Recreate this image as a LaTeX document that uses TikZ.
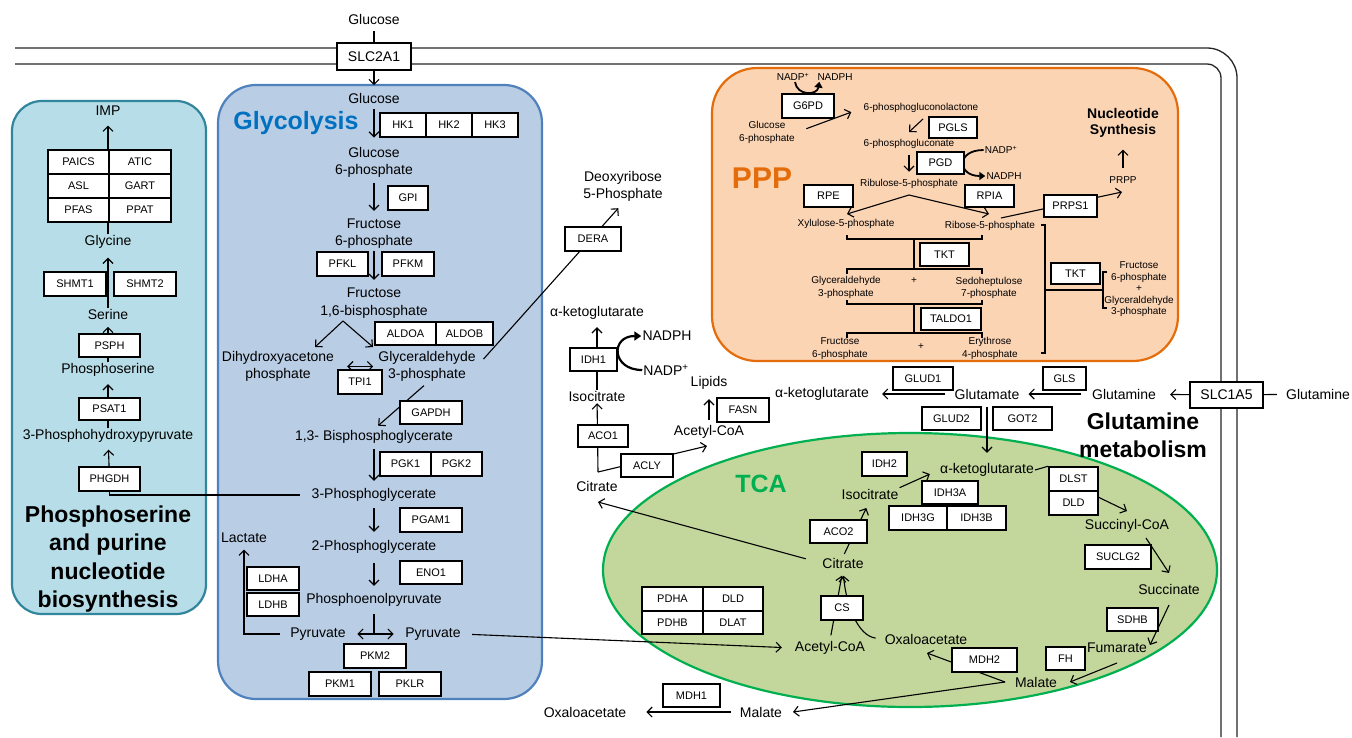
\documentclass[tikz,border=0pt]{standalone}
\usepackage{fontspec}
\setmainfont{Liberation Sans}
\usetikzlibrary{arrows.meta,calc}
\pgfdeclarelayer{fg}
\pgfsetlayers{main,fg}
\definecolor{lpfill}{HTML}{B7DEE8}
\definecolor{lpdraw}{HTML}{31859C}
\definecolor{glfill}{HTML}{B9CDE5}
\definecolor{gldraw}{HTML}{4F81BD}
\definecolor{glti}{HTML}{0070C0}
\definecolor{ppfill}{HTML}{FBD4B4}
\definecolor{ppdraw}{HTML}{E46C0A}
\definecolor{tcfill}{HTML}{C3D69B}
\definecolor{tcdraw}{HTML}{00B050}
\begin{document}
\begin{tikzpicture}[x=1pt,y=-1pt,
  met/.style={font=\fontsize{14}{17.5}\selectfont, inner sep=1pt, align=center},
  sm/.style={font=\fontsize{10}{12.5}\selectfont, inner sep=1pt, align=center},
  enz/.style={draw, fill=white, line width=1.6pt, font=\fontsize{11}{13}\selectfont, inner sep=0pt, minimum width=#1, minimum height=23pt},
  enz/.default=61pt,
  arr/.style={line width=1.1pt, -{Straight Barb[length=5pt,width=10pt]}},
  ln/.style={line width=1.1pt},
  dbl/.style={line width=1.1pt, {Straight Barb[length=5pt,width=10pt]}-{Straight Barb[length=5pt,width=10pt]}},
  cur/.style={line width=2.2pt, -{Triangle[length=7pt,width=9pt]}},
  curs/.style={line width=1.8pt, -{Triangle[length=6pt,width=8pt]}},
  brk/.style={line width=1.1pt},
  memb/.style={line width=1.3pt, black!85},
  region/.style={line width=2.2pt}
]
\fill[white] (0,0) rectangle (1352,737);
\useasboundingbox (0,0) rectangle (1352,737);

% membrane
\draw[memb, rounded corners=30pt] (15,48) -- (1237,48) -- (1237,737);
\draw[memb, rounded corners=14pt] (15,64) -- (1221,64) -- (1221,737);

% regions
\draw[region, draw=lpdraw, fill=lpfill, rounded corners=30pt] (12,101) rectangle (206,614);
\draw[region, draw=gldraw, fill=glfill, rounded corners=38pt] (218,85) rectangle (542,699);
\draw[region, draw=ppdraw, fill=ppfill, rounded corners=45pt] (712,68) rectangle (1178,361);
\draw[region, draw=tcdraw, fill=tcfill] (910,570) ellipse [x radius=307pt, y radius=137pt];

% titles
\node[font=\bfseries\fontsize{25}{30}\selectfont, text=glti] (glyti) at (296,123) {Glycolysis};
\node[font=\bfseries\fontsize{23}{28.3}\selectfont, align=center] (lpti) at (108,559) {Phosphoserine\\and purine\\nucleotide\\biosynthesis};
\node[font=\bfseries\fontsize{30}{36}\selectfont, text=ppdraw] (pppti) at (762,178) {PPP};
\node[font=\bfseries\fontsize{25}{30}\selectfont, text=tcdraw] (tcati) at (761,484) {TCA};
\node[font=\bfseries\fontsize{23}{28}\selectfont, align=center] (glnti) at (1143,435) {Glutamine\\metabolism};
\node[font=\bfseries\fontsize{14}{16}\selectfont, align=center] (nucti) at (1123,123) {Nucleotide\\Synthesis};

% left panel metabolites
\node[met] (imp) at (108,111) {IMP};
\node[met] (gly) at (108,242) {Glycine};
\node[met] (ser) at (108,314) {Serine};
\node[met] (pser) at (108,370) {Phosphoserine};
\node[met] (php) at (108,436) {3-Phosphohydroxypyruvate};

% glycolysis metabolites
\node[met] (glcout) at (374,19) {Glucose};
\node[met] (glcin) at (374,98) {Glucose};
\node[met] (g6p) at (374,162.5) {Glucose\\6-phosphate};
\node[met] (f6p) at (374,233.5) {Fructose\\6-phosphate};
\node[met] (f16bp) at (374,303) {Fructose\\1,6-bisphosphate};
\node[met] (dhap) at (278,366.5) {Dihydroxyacetone\\phosphate};
\node[met] (gap) at (427,366.5) {Glyceraldehyde\\3-phosphate};
\node[met] (bpg) at (374,437) {1,3- Bisphosphoglycerate};
\node[met] (pg3) at (374,495) {3-Phosphoglycerate};
\node[met] (pg2) at (374,547) {2-Phosphoglycerate};
\node[met] (pep) at (374,600) {Phosphoenolpyruvate};
\node[met] (lac) at (244,538) {Lactate};
\node[met] (pyrL) at (318,634) {Pyruvate};
\node[met] (pyrR) at (433,634) {Pyruvate};

% middle metabolites
\node[met] (dr5p) at (623,186.5) {Deoxyribose\\5-Phosphate};
\node[met] (akg1) at (597,313) {α-ketoglutarate};
\node[met] (nadph1) at (667,336) {NADPH};
\node[met] (nadp1) at (666,370) {NADP\textsuperscript{+}};
\node[met] (iso1) at (597,396) {Isocitrate};
\node[met] (cit1) at (597,486) {Citrate};
\node[met] (accoa1) at (709,432) {Acetyl-CoA};
\node[met] (lip) at (709,383) {Lipids};

% glutamine metabolites
\node[met] (akg2) at (822,394) {α-ketoglutarate};
\node[met] (glu) at (987,394) {Glutamate};
\node[met] (gln1) at (1124,394) {Glutamine};
\node[met] (gln2) at (1318,394) {Glutamine};

% TCA metabolites
\node[met] (akg3) at (987,470) {α-ketoglutarate};
\node[met] (iso2) at (870,494) {Isocitrate};
\node[met] (cit2) at (843,563) {Citrate};
\node[met] (accoa2) at (830,648) {Acetyl-CoA};
\node[met] (oaa2) at (926,639) {Oxaloacetate};
\node[met] (mal2) at (1036,682) {Malate};
\node[met] (fum) at (1117,648) {Fumarate};
\node[met] (suc) at (1169,589) {Succinate};
\node[met] (succoa) at (1127,526) {Succinyl-CoA};
\node[met] (mal1) at (761,712) {Malate};
\node[met] (oaa1) at (585,712) {Oxaloacetate};

% PPP metabolites
\node[sm] (nadpA) at (793,77) {NADP\textsuperscript{+}};
\node[sm] (nadphA) at (835,77) {NADPH};
\node[sm] (g6pP) at (767,132.5) {Glucose\\6-phosphate};
\node[sm] (pgl) at (921,108) {6-phosphogluconolactone};
\node[sm] (pg6) at (909,144) {6-phosphogluconate};
\node[sm] (nadpB) at (1001,150) {NADP\textsuperscript{+}};
\node[sm] (nadphB) at (1004,176) {NADPH};
\node[sm] (ru5p) at (909,184) {Ribulose-5-phosphate};
\node[sm] (xu5p) at (846,224) {Xylulose-5-phosphate};
\node[sm] (r5p) at (990,226) {Ribose-5-phosphate};
\node[sm] (prpp) at (1123,180) {PRPP};
\node[sm] (gap3) at (846,287.5) {Glyceraldehyde\\3-phosphate};
\node[sm] (plus1) at (914,281) {+};
\node[sm] (s7p) at (989,288) {Sedoheptulose\\7-phosphate};
\node[sm] (f6pP) at (840,348.5) {Fructose\\6-phosphate};
\node[sm] (plus2) at (921,347) {+};
\node[sm] (e4p) at (990,348.5) {Erythrose\\4-phosphate};
\node[sm, font=\fontsize{10}{11.5}\selectfont] (prodR) at (1139,289.5) {Fructose\\6-phosphate\\+\\Glyceraldehyde\\3-phosphate};

% enzyme boxes (foreground)
\begin{pgfonlayer}{fg}
\node[enz=74pt, minimum height=27pt, font=\fontsize{14}{16}\selectfont] (slc2a1) at (374,56.5) {SLC2A1};
\node[enz=73pt, minimum height=26pt, font=\fontsize{14}{16}\selectfont] (slc1a5) at (1226.5,395) {SLC1A5};
% left
\node[enz=61pt, minimum height=24pt] (paics) at (78.5,162) {PAICS};
\node[enz=62pt, minimum height=24pt] (atic) at (140,162) {ATIC};
\node[enz=61pt, minimum height=24pt] (asl) at (78.5,186) {ASL};
\node[enz=62pt, minimum height=24pt] (gart) at (140,186) {GART};
\node[enz=61pt, minimum height=24pt] (pfas) at (78.5,210) {PFAS};
\node[enz=62pt, minimum height=24pt] (ppat) at (140,210) {PPAT};
\node[enz=62pt, minimum height=24pt] (shmt1) at (75,284) {SHMT1};
\node[enz=62pt, minimum height=24pt] (shmt2) at (145,284) {SHMT2};
\node[enz] (psph) at (109.5,345.5) {PSPH};
\node[enz, minimum height=22pt] (psat1) at (109.5,409) {PSAT1};
\node[enz, minimum height=24pt] (phgdh) at (109.5,479) {PHGDH};
% glycolysis
\node[enz=46pt, minimum height=24pt] (hk1) at (403,125) {HK1};
\node[enz=46pt, minimum height=24pt] (hk2) at (449,125) {HK2};
\node[enz=46pt, minimum height=24pt] (hk3) at (495,125) {HK3};
\node[enz=40pt, minimum height=24pt] (gpi) at (408,198) {GPI};
\node[enz=51pt, minimum height=24pt] (pfkl) at (342.5,264) {PFKL};
\node[enz=52pt, minimum height=24pt] (pfkm) at (408,264) {PFKM};
\node[enz=61pt] (aldoa) at (405.5,333.5) {ALDOA};
\node[enz=57pt] (aldob) at (464.5,333.5) {ALDOB};
\node[enz=44pt, minimum height=24pt] (tpi1) at (360,382) {TPI1};
\node[enz=62pt] (gapdh) at (431,412.5) {GAPDH};
\node[enz=51pt, minimum height=24pt] (pgk1) at (405.5,464) {PGK1};
\node[enz=51pt, minimum height=24pt] (pgk2) at (456.5,464) {PGK2};
\node[enz=62pt, minimum height=24pt] (pgam1) at (431,520) {PGAM1};
\node[enz=62pt] (eno1) at (431,572.5) {ENO1};
\node[enz=52pt] (ldha) at (273,578.5) {LDHA};
\node[enz=52pt] (ldhb) at (273,604.5) {LDHB};
\node[enz=62pt, minimum height=24pt] (pkm2) at (375,656) {PKM2};
\node[enz=62pt, minimum height=24pt] (pkm1) at (340,684) {PKM1};
\node[enz=62pt, minimum height=24pt] (pklr) at (410,684) {PKLR};
% middle
\node[enz=56pt, minimum height=24pt] (dera) at (593,239) {DERA};
\node[enz=47pt] (idh1) at (593.5,359.5) {IDH1};
\node[enz=50pt, minimum height=22pt] (aco1) at (603,436) {ACO1};
\node[enz=52pt] (acly) at (647,465.5) {ACLY};
\node[enz=52pt, minimum height=24pt] (fasn) at (743,410) {FASN};
% glutamine
\node[enz=60pt] (glud1) at (923,378.5) {GLUD1};
\node[enz=43pt] (gls) at (1064.5,378.5) {GLS};
\node[enz=59pt] (glud2) at (951.5,418.5) {GLUD2};
\node[enz=59pt] (got2) at (1022.5,418.5) {GOT2};
% TCA
\node[enz=45pt, minimum height=24pt] (idh2) at (884.5,464) {IDH2};
\node[enz=56pt] (idh3a) at (950,492.5) {IDH3A};
\node[enz=58pt, minimum height=24pt] (idh3g) at (918,518) {IDH3G};
\node[enz=59pt, minimum height=24pt] (idh3b) at (976.5,518) {IDH3B};
\node[enz=57pt] (aco2) at (838.5,531.5) {ACO2};
\node[enz=42pt, minimum height=24pt] (cs) at (842,608) {CS};
\node[enz=61pt, minimum height=24pt] (pdha) at (672.5,599) {PDHA};
\node[enz=60pt, minimum height=24pt] (dldp) at (733,599) {DLD};
\node[enz=61pt] (pdhb) at (672.5,622.5) {PDHB};
\node[enz=60pt] (dlat) at (733,622.5) {DLAT};
\node[enz=65pt, minimum height=24pt] (mdh2) at (984.5,660) {MDH2};
\node[enz=57pt] (mdh1) at (691.5,695.5) {MDH1};
\node[enz=39pt] (fh) at (1065.5,658.5) {FH};
\node[enz=51pt] (sdhb) at (1132.5,619.5) {SDHB};
\node[enz=66pt, minimum height=24pt] (suclg2) at (1118,557) {SUCLG2};
\node[enz=49pt, minimum height=24pt] (dlst) at (1073.5,479) {DLST};
\node[enz=49pt, minimum height=24pt] (dldt) at (1073.5,503) {DLD};
% PPP
\node[enz=52pt, minimum height=24pt] (g6pd) at (808,106) {G6PD};
\node[enz=48pt, minimum height=21pt] (pgls) at (953,127.5) {PGLS};
\node[enz=47pt, minimum height=22pt] (pgd) at (940.5,163) {PGD};
\node[enz=49pt, minimum height=22pt] (rpe) at (828.5,196) {RPE};
\node[enz=49pt, minimum height=22pt] (rpia) at (989.5,196) {RPIA};
\node[enz=53pt, minimum height=22pt] (prps1) at (1070.5,206) {PRPS1};
\node[enz=49pt] (tkt) at (944.5,254.5) {TKT};
\node[enz=60pt, minimum height=22pt] (taldo1) at (951,319) {TALDO1};
\node[enz=49pt, minimum height=21pt] (tkt2) at (1075.5,273.5) {TKT};
\end{pgfonlayer}

% ---------- connectors ----------
% left panel
\draw[arr, shorten >=8.5pt] (gly) -- (imp);
\draw[arr, shorten >=8pt] (ser) -- (gly);
\draw[arr, shorten >=6.5pt] (pser) -- (ser);
\draw[arr, shorten >=6.5pt] (php) -- (pser);
\draw[arr, shorten >=6pt] (phgdh) -- (php);
\draw[ln, shorten >=11pt] (phgdh.south) |- (pg3.west);

% glycolysis
\draw[ln, shorten <=5.5pt] (glcout) -- (slc2a1);
\draw[arr, shorten >=6.5pt] (slc2a1) -- (glcin);
\draw[arr, shorten <=4.5pt, shorten >=8.5pt] (glcin) -- (g6p);
\draw[arr, shorten <=4.5pt, shorten >=6.5pt] (g6p) -- (f6p);
\draw[arr, shorten <=1pt, shorten >=7pt] (f6p) -- (f16bp);
\coordinate (fk) at (343,321);
\coordinate (fkL) at (315,347);
\coordinate (fkR) at (373,347);
\draw[arr] (fk) -- (fkL);
\draw[arr] (fk) -- (fkR);
\draw[dbl, shorten <=12pt, shorten >=4pt] (dhap.east) -- (gap.west);
\draw[arr, shorten <=4pt, shorten >=5.5pt] (gap.south) -- (bpg.north);
\draw[arr, shorten <=10pt, shorten >=7pt] (gap.east) -- (dr5p.south);
\draw[arr, shorten <=4.5pt, shorten >=6.5pt] (bpg) -- (pg3);
\draw[arr, shorten <=5.5pt, shorten >=7.5pt] (pg3) -- (pg2);
\draw[arr, shorten <=8.5pt, shorten >=6.5pt] (pg2) -- (pep);
\coordinate (pk) at (374,634);
\draw[ln, shorten <=6.5pt] (pep) -- (pk);
\draw[dbl, shorten <=10.5pt, shorten >=10.5pt] (pyrL) -- (pyrR);
\draw[arr, shorten <=9.4pt, shorten >=5.5pt] (pyrL.west) -| (lac.south);
\draw[arr, shorten <=10.4pt, shorten >=12pt] (pyrR.east) -- (accoa2.west);

% middle
\draw[arr, shorten >=6.5pt] (iso1) -- (akg1);
\draw[cur] (nadp1.west) .. controls +(-31,0) and +(-31,0) .. (nadph1.west);
\coordinate (jn) at (598,472);
\coordinate (acT) at (707,446);
\draw[arr, shorten >=1pt] (jn) -- (iso1);
\draw[arr] (jn) -- (acT);
\draw[arr, shorten <=4pt, shorten >=8.5pt] (accoa1) -- (lip);
\coordinate (citT) at (598,502);
\draw[arr, shorten <=16pt] (cit2.west) -- (citT);

% glutamine
\draw[arr, shorten <=9pt, shorten >=12pt] (glu) -- (akg2);
\draw[arr, shorten <=10pt, shorten >=8pt] (gln1) -- (glu);
\draw[arr, shorten >=13pt] (slc1a5) -- (gln1);
\draw[ln, shorten <=8pt] (gln2) -- (slc1a5);
\draw[arr, shorten <=6.5pt, shorten >=9.5pt] (glu) -- (akg3);

% TCA
\draw[arr, shorten >=10pt] (iso2.north east) -- (akg3.west);
\draw[arr, shorten <=3pt, shorten >=8.5pt] (cit2.north) -- (iso2.south);
\draw[arr, shorten <=5pt, shorten >=6.5pt] (accoa2.north) -- (cit2.south);
\draw[arr, shorten <=8pt, shorten >=6.5pt] (oaa2.west) .. controls (858,636) and (846,605) .. (cit2.south);
\coordinate (mj) at (1005,682);
\coordinate (oaT) at (927,653);
\coordinate (maT) at (793,712);
\draw[arr] (mj) -- (oaT);
\draw[arr] (mj) -- (maT);
\draw[arr, shorten <=8pt, shorten >=19pt] (mal1.west) -- (oaa1.east);
\coordinate (fmS) at (1117,663);
\coordinate (mlT) at (1070,682);
\draw[arr] (fmS) -- (mlT);
\coordinate (sS) at (1169,605);
\coordinate (sT) at (1150,645);
\draw[arr] (sS) -- (sT);
\coordinate (scS) at (1146,538);
\coordinate (scT) at (1169,573);
\draw[arr] (scS) -- (scT);
\coordinate (dlS) at (1098,497);
\coordinate (dlT) at (1127,511);
\draw[arr] (dlS) -- (dlT);
\draw[ln] (akg3.east) -- (dlst.north west);

% PPP
\draw[curs] ([xshift=2pt]nadpA.south) .. controls +(2,14) and +(-2,14) .. ([xshift=3pt]nadphA.south west);
\draw[arr, shorten <=11pt, shorten >=12pt] (g6pP.east) -- (pgl.west);
\coordinate (pgS) at (923,119);
\coordinate (pgT) at (909,132);
\draw[arr] (pgS) -- (pgT);
\draw[arr, shorten <=5.4pt, shorten >=6.4pt] (pg6) -- (ru5p);
\draw[curs] (nadpB.west) .. controls +(-28,0) and +(-28,0) .. (nadphB.west);
\coordinate (rk) at (909,195);
\coordinate (rkL) at (847,214);
\coordinate (rkR) at (989,214);
\draw[arr] (rk) -- (rkL);
\draw[arr] (rk) -- (rkR);
\coordinate (rpS) at (1001,218);
\coordinate (rpT) at (1122,192);
\draw[arr] (rpS) -- (rpT);
\draw[arr, shorten <=7.4pt, shorten >=8.5pt] (prpp) -- (nucti);

% PPP brackets
\draw[brk] (847,235) -- (847,239) -- (982,239) -- (982,235);
\draw[brk] (914,239) -- (914,269);
\draw[brk] (847,274) -- (847,269) -- (982,269) -- (982,274);
\draw[brk] (847,300) -- (847,304) -- (982,304) -- (982,300);
\draw[brk] (914,304) -- (914,333);
\draw[brk] (847,338) -- (847,333) -- (982,333) -- (982,338);
\draw[brk] (1041,225) -- (1045,225) -- (1045,353) -- (1041,353);
\draw[brk] (1045,290) -- (1103,290);
\draw[brk] (1107,272) -- (1103,272) -- (1103,308) -- (1107,308);
\end{tikzpicture}
\end{document}
